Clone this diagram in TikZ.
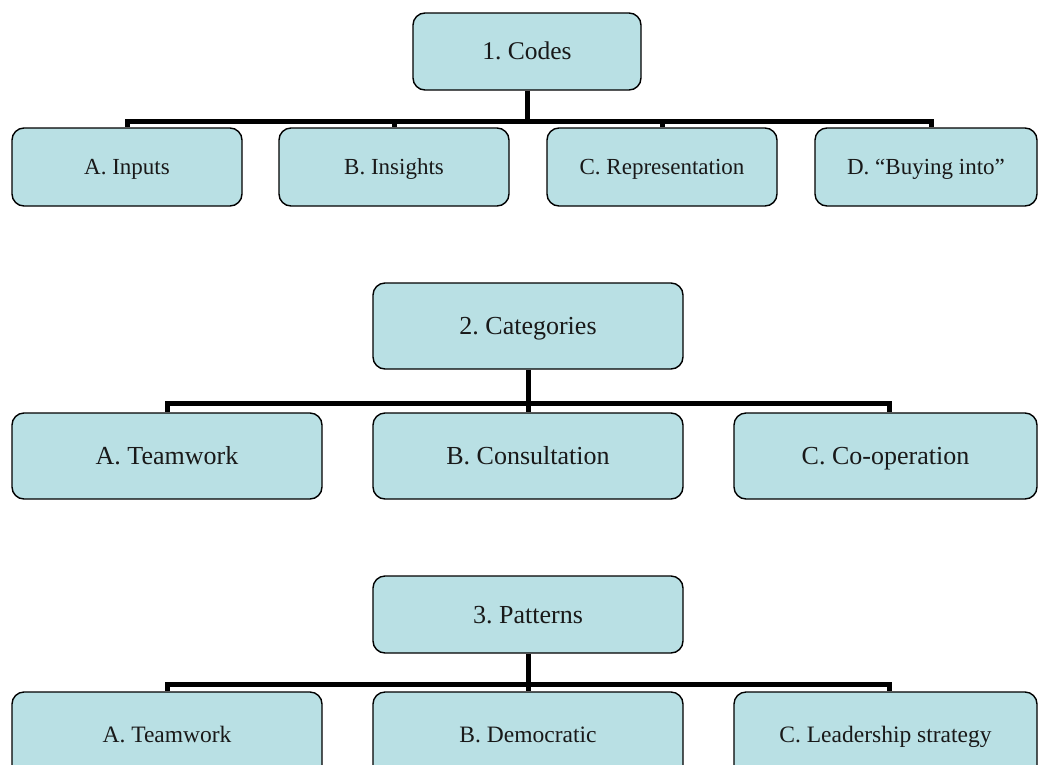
\documentclass[tikz,border=0pt]{standalone}
\usepackage{fontspec}
\setmainfont{Liberation Serif}
\frenchspacing
\definecolor{boxfill}{RGB}{185,224,228}
\tikzset{
  box/.style={draw=black, line width=1.4pt, fill=boxfill, rounded corners=12pt,
    inner sep=0pt, text=black!90, text depth=0pt},
  conn/.style={draw=black, line width=5pt, line join=miter},
  fhead/.style={font=\fontsize{26}{30}\selectfont\frenchspacing, text height=17.2pt},
  fsmall/.style={font=\fontsize{23}{27}\selectfont\frenchspacing, text height=15.2pt},
  fmid/.style={font=\fontsize{26}{30}\selectfont\frenchspacing, text height=17.2pt},
  fthree/.style={font=\fontsize{23.5}{28}\selectfont\frenchspacing, text height=15.5pt},
  fone/.style={font=\fontsize{25.5}{30}\selectfont\frenchspacing, text height=16.8pt},
}
\begin{document}
\begin{tikzpicture}[x=1pt,y=-1pt]
\useasboundingbox (0,0) rectangle (1039,764);
\clip (0,0) rectangle (1039,764);
% Row 1
\node[box,fone,minimum width=228pt,minimum height=77pt] (p1) at (527,51.5) {1. Codes};
\node[box,fsmall,minimum width=230pt,minimum height=78pt] (a1) at (127,167) {A. Inputs};
\node[box,fsmall,minimum width=230pt,minimum height=78pt] (b1) at (394,167) {B. Insights};
\node[box,fsmall,minimum width=230pt,minimum height=78pt] (c1) at (662,167) {C. Representation};
\node[box,fsmall,minimum width=222pt,minimum height=78pt] (d1) at (926,167) {D. ``Buying into''};
\coordinate (j1) at (527,121);
\draw[conn] (p1.south) -- (j1);
\draw[conn] (j1) -| (a1.north);
\draw[conn] (j1) -| (b1.north);
\draw[conn] (j1) -| (c1.north);
\draw[conn] (j1) -| ([xshift=5pt]d1.north);
% Row 2
\node[box,fhead,minimum width=310pt,minimum height=86pt] (p2) at (528,326) {2. Categories};
\node[box,fmid,minimum width=310pt,minimum height=86pt] (a2) at (167,456) {A. Teamwork};
\node[box,fmid,minimum width=310pt,minimum height=86pt] (b2) at (528,456) {B. Consultation};
\node[box,fmid,minimum width=303pt,minimum height=86pt] (c2) at (885.5,456) {C. Co-operation};
\coordinate (j2) at (528,403);
\draw[conn] (p2.south) -- (j2);
\draw[conn] (j2) -| (a2.north);
\draw[conn] (j2) -- (b2.north);
\draw[conn] (j2) -| ([xshift=4pt]c2.north);
% Row 3
\node[box,fhead,minimum width=310pt,minimum height=77pt] (p3) at (528,614.5) {3. Patterns};
\node[box,fthree,minimum width=310pt,minimum height=86pt] (a3) at (167,735) {A. Teamwork};
\node[box,fthree,minimum width=310pt,minimum height=86pt] (b3) at (528,735) {B. Democratic};
\node[box,fthree,minimum width=303pt,minimum height=86pt] (c3) at (885.5,735) {C. Leadership strategy};
\coordinate (j3) at (528,684);
\draw[conn] (p3.south) -- (j3);
\draw[conn] (j3) -| (a3.north);
\draw[conn] (j3) -- (b3.north);
\draw[conn] (j3) -| ([xshift=4pt]c3.north);
\end{tikzpicture}
\end{document}
